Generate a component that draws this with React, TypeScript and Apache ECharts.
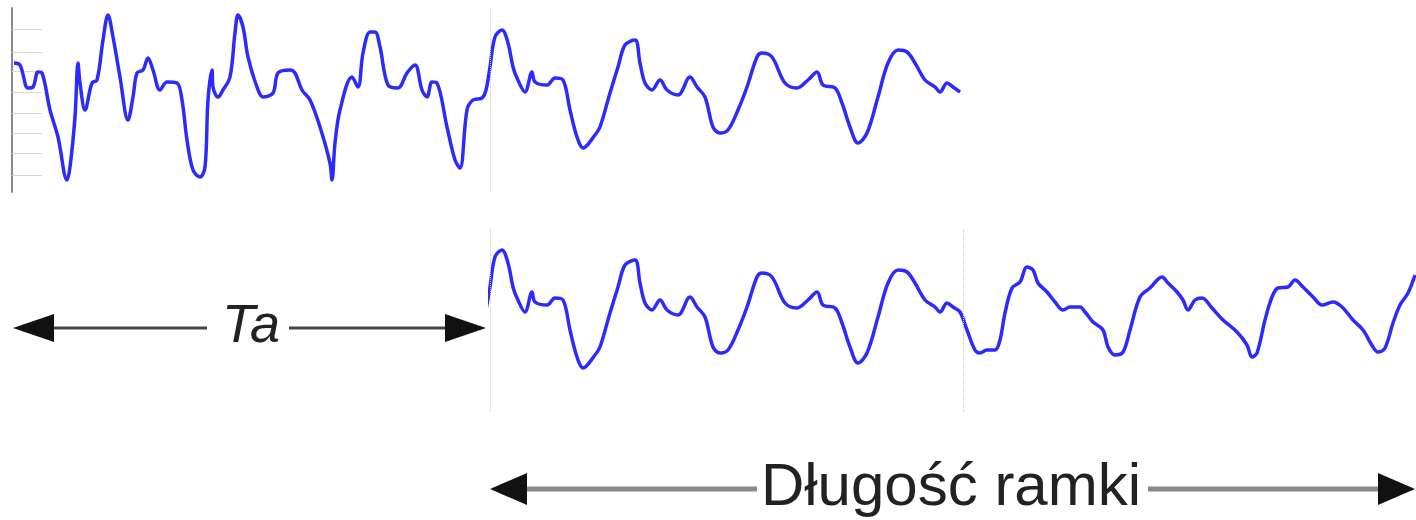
import React, { useEffect, useRef } from "react";
import * as echarts from "echarts";

// Signal samples: time (sample index) and amplitude
const sampleTime: number[] = [
  2, 8, 16, 21, 26, 30, 38, 46, 55, 58, 63, 66, 68, 73, 80, 85, 91, 96, 101, 108,
  116, 121, 125, 131, 136, 141, 148, 155, 165, 170, 175, 181, 188, 193, 196, 200, 201, 206, 211, 218,
  223, 226, 231, 236, 245, 251, 261, 266, 278, 283, 290, 298, 308, 318, 320, 323, 328, 340, 346, 351,
  358, 363, 368, 376, 386, 395, 403, 410, 415, 420, 425, 435, 443, 448, 455, 461, 470, 474, 478, 483,
  490, 496, 501, 505, 513, 520, 523, 535, 543, 551, 558, 565, 571, 583, 588, 598, 606, 613, 623, 628,
  633, 640, 648, 655, 666, 678, 685, 693, 701, 708, 716, 726, 735, 745, 750, 760, 773, 785, 796, 805,
  811, 823, 830, 838, 846, 855, 866, 876, 886, 895, 903, 913, 923, 928, 935, 941, 948, 955, 963, 968,
  975, 983, 988, 993, 1000, 1008, 1015, 1021, 1026, 1035, 1043, 1051, 1058, 1068, 1073, 1081, 1091, 1096, 1103, 1111,
  1118, 1128, 1138, 1150, 1156, 1165, 1171, 1176, 1183, 1190, 1200, 1211, 1225, 1235, 1240, 1245, 1253, 1260, 1266, 1276,
  1283, 1291, 1301, 1310, 1321, 1330, 1341, 1351, 1361, 1366, 1373, 1381, 1388, 1396, 1403,
];
const sampleAmp: number[] = [
  37, 35, 12, 13, 28, 27, -10, -37, -80, -67, -17, 37, 17, -10, 17, 20, 60, 85, 63, 23,
  -20, 3, 27, 30, 42, 30, 10, 18, 17, 0, -40, -70, -77, -67, 0, 30, 13, 3, 10, 23,
  67, 85, 73, 43, 13, 3, 7, 27, 30, 27, 10, 0, -27, -63, -80, -43, -10, 23, 13, 47,
  68, 68, 53, 15, 12, 27, 35, 10, 3, 18, 17, -27, -60, -68, -10, 0, 2, 10, 33, 63,
  70, 57, 33, 22, 8, 28, 18, 15, 22, 20, -10, -37, -48, -35, -27, 7, 33, 55, 60, 37,
  17, 10, 20, 10, 5, 23, 13, 3, -27, -33, -30, -10, 13, 43, 47, 43, 17, 12, 20, 28,
  15, 12, -3, -27, -43, -33, 3, 37, 50, 48, 37, 20, 13, 8, 17, 13, 8, -10, -30, -33,
  -30, -30, -20, 7, 32, 38, 53, 50, 37, 28, 18, 10, 13, 13, 8, -2, -10, -27, -35, -32,
  -10, 23, 32, 43, 37, 28, 20, 10, 20, 22, 12, 0, -12, -25, -37, -33, 0, 23, 32, 33,
  40, 33, 23, 15, 18, 13, 0, -10, -27, -32, -28, -3, 15, 27, 45,
];

// Window limits (sample index)
const windowA: number[] = [0, 948]; // upper trace
const windowB: number[] = [478, 1404]; // lower trace (frame)
const frameMarks: number[] = [478, 951];
const ampRange: number[] = [-92, 92];
const ampTicks: number[] = [71, 48, 29, 8, -13, -33, -53, -75];

const labelTa = "Ta";
const labelFrame = "Długość ramki";

export default function App() {
  const ref = useRef<HTMLDivElement>(null);

  useEffect(() => {
    if (!ref.current) return;
    const chart = echarts.init(ref.current, undefined, { renderer: "svg" });
    const signal = sampleTime.map((t, i) => [t, sampleAmp[i]]);
    const topData = signal.filter((p) => p[0] >= windowA[0] && p[0] <= windowA[1]);
    const botData = signal.filter((p) => p[0] >= windowB[0] - 4 && p[0] <= windowB[1]);
    const blue = "#2b2bff";
    const dotted = {
      type: "dotted" as const,
      color: "#c8c8c8",
      width: 1,
    };

    const arrowHead = (tipX: number, y: number, dir: number, len: number, half: number) => ({
      type: "polygon",
      shape: {
        points: [
          [tipX, y],
          [tipX + dir * len, y - half],
          [tipX + dir * len, y + half],
        ],
      },
      style: { fill: "#111" },
      silent: true,
    });

    chart.setOption({
      animation: false,
      backgroundColor: "#ffffff",
      grid: [
        { left: 12, top: 8, width: 948, height: 184 },
        { left: 490, top: 228, width: 926, height: 184 },
      ],
      xAxis: [
        { gridIndex: 0, type: "value", min: windowA[0], max: windowA[1], show: false },
        { gridIndex: 1, type: "value", min: windowB[0], max: windowB[1], show: false },
      ],
      yAxis: [
        {
          gridIndex: 0,
          type: "value",
          min: ampRange[0],
          max: ampRange[1],
          axisLine: { show: true, lineStyle: { color: "#8a8a8a", width: 2 } },
          axisTick: {
            show: true,
            inside: true,
            length: 30,
            customValues: ampTicks,
            lineStyle: { color: "#d8d8d8", width: 1 },
          },
          axisLabel: { show: false },
          splitLine: { show: false },
        },
        {
          gridIndex: 1,
          type: "value",
          min: ampRange[0],
          max: ampRange[1],
          show: false,
        },
      ],
      series: [
        {
          type: "line",
          xAxisIndex: 0,
          yAxisIndex: 0,
          data: topData,
          showSymbol: false,
          smooth: 0.35,
          lineStyle: { color: blue, width: 3.5 },
          markLine: {
            silent: true,
            symbol: ["none", "none"],
            label: { show: false },
            lineStyle: dotted,
            data: [{ xAxis: frameMarks[0] }],
          },
          z: 3,
        },
        {
          type: "line",
          xAxisIndex: 1,
          yAxisIndex: 1,
          data: botData,
          showSymbol: false,
          smooth: 0.35,
          clip: true,
          lineStyle: { color: blue, width: 3.5 },
          markLine: {
            silent: true,
            symbol: ["none", "none"],
            label: { show: false },
            lineStyle: dotted,
            data: frameMarks.map((m) => ({ xAxis: m })),
          },
          z: 3,
        },
      ],
      graphic: [
        // Ta arrow
        { type: "line", shape: { x1: 50, y1: 328, x2: 207, y2: 328 }, style: { stroke: "#444", lineWidth: 3 }, silent: true },
        { type: "line", shape: { x1: 289, y1: 328, x2: 450, y2: 328 }, style: { stroke: "#444", lineWidth: 3 }, silent: true },
        arrowHead(13, 328, 1, 41, 14),
        arrowHead(486, 328, -1, 41, 14),
        {
          type: "text",
          x: 251,
          y: 323,
          style: {
            text: labelTa,
            fontSize: 54,
            fontStyle: "italic",
            fontFamily: "Liberation Sans, Arial, sans-serif",
            fill: "#222",
            align: "center",
            verticalAlign: "middle",
          },
          silent: true,
        },
        // Frame length arrow
        { type: "line", shape: { x1: 522, y1: 489, x2: 757, y2: 489 }, style: { stroke: "#8a8a8a", lineWidth: 5 }, silent: true },
        { type: "line", shape: { x1: 1148, y1: 489, x2: 1382, y2: 489 }, style: { stroke: "#8a8a8a", lineWidth: 5 }, silent: true },
        arrowHead(490, 489, 1, 37, 16),
        arrowHead(1415, 489, -1, 37, 16),
        {
          type: "text",
          x: 951,
          y: 484,
          style: {
            text: labelFrame,
            fontSize: 60,
            fontFamily: "Liberation Sans, Arial, sans-serif",
            fill: "#222",
            align: "center",
            verticalAlign: "middle",
          },
          silent: true,
        },
      ],
    });

    return () => {
      chart.dispose();
    };
  }, []);

  return (
    <div
      ref={ref}
      style={{ position: "absolute", left: 0, top: 0, width: 1416, height: 520, background: "#fff" }}
    />
  );
}
